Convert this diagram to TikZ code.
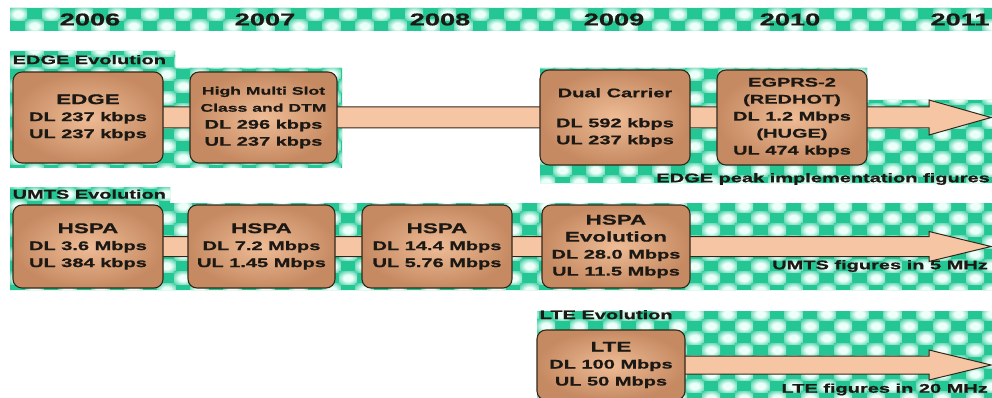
\documentclass[tikz,border=0pt]{standalone}
\usepackage{fontspec}
\newfontfamily\chartfont[FakeStretch=1.6,FakeBold=0.8]{Liberation Sans}
\usetikzlibrary{positioning,calc,backgrounds}

\definecolor{chkgreen}{RGB}{36,198,148}
\definecolor{chkwhite}{RGB}{236,255,249}
\definecolor{boxlight}{RGB}{238,188,150}
\definecolor{boxdark}{RGB}{198,138,98}
\definecolor{barfill}{RGB}{246,198,164}
\definecolor{inkdark}{RGB}{28,24,20}
\definecolor{boxline}{RGB}{52,40,28}

\pgfdeclareradialshading{chkblob}{\pgfpointorigin}{color(0bp)=(chkwhite); color(12bp)=(chkwhite); color(38bp)=(chkgreen); color(50bp)=(chkgreen)}

\newcommand{\bigtxt}{\fontsize{14}{17}\selectfont}
\newcommand{\smalltxt}{\fontsize{11}{16}\selectfont}

% checkered backdrops behind the year band and the three rows
\newcommand{\greenzones}{(10,8) rectangle (992,31)
  (10,51) rectangle (175,70) (10,68) rectangle (342,168)
  (540,68) rectangle (867,100) (540,100) rectangle (992,183)
  (10,187) rectangle (170,205) (10,203) rectangle (992,290)
  (537,311) rectangle (992,400)}

% wide arrow: shaft from a box centre, head ending at a tip coordinate
\newcommand{\bandarrow}[4]{%
  \draw[stagebar] ($(#1.center)+(0,-#3)$) -- ($(#2)+(-62,-#3)$) -- ($(#2)+(-62,-#4)$) -- (#2)
    -- ($(#2)+(-62,#4)$) -- ($(#2)+(-62,#3)$) -- ($(#1.center)+(0,#3)$) -- cycle;}

\begin{document}
\begin{tikzpicture}[x=1pt,y=-1pt,
  stagebox/.style={rectangle,rounded corners=9pt,draw=boxline,line width=1.1pt,
    inner color=boxlight,outer color=boxdark,align=center,text=inkdark,inner sep=2pt,
    font=\chartfont\bfseries\fontsize{12.5}{17}\selectfont},
  stagebar/.style={draw=boxline,line width=1pt,fill=barfill},
  yearlbl/.style={font=\chartfont\bfseries\fontsize{17}{20}\selectfont,text=inkdark},
  rowtitle/.style={font=\chartfont\bfseries\fontsize{12.5}{15}\selectfont,text=inkdark,inner sep=0pt},
  fignote/.style={rowtitle,anchor=east}]
  \useasboundingbox (0,0) rectangle (992,398);
  \clip (0,0) rectangle (992,398);

  % EDGE row
  \node [stagebox,minimum width=150pt,minimum height=91pt] (edge_box) at (88,117.5) {\bigtxt EDGE\\DL 237 kbps\\UL 237 kbps};
  \node [stagebox,minimum width=147pt,minimum height=91pt] (dtm_box) at (263.5,117.5) {{\smalltxt High Multi Slot}\\{\smalltxt Class and DTM}\\DL 296 kbps\\UL 237 kbps};
  \node [stagebox,minimum width=150pt,minimum height=95pt] (dual_box) at (615,117.5) {Dual Carrier\\[13pt]DL 592 kbps\\UL 237 kbps};
  \node [stagebox,minimum width=150pt,minimum height=95pt] (egprs_box) at (792,117.5) {EGPRS-2\\(REDHOT)\\DL 1.2 Mbps\\(HUGE)\\UL 474 kbps};
  \coordinate (edge_tip) at (991,117.5);

  % UMTS row
  \node [stagebox,minimum width=150pt,minimum height=83pt] (hspa1_box) at (88,246.5) {\bigtxt HSPA\\DL 3.6 Mbps\\UL 384 kbps};
  \node [stagebox,minimum width=147pt,minimum height=83pt] (hspa2_box) at (261.5,246.5) {\bigtxt HSPA\\DL 7.2 Mbps\\UL 1.45 Mbps};
  \node [stagebox,minimum width=150pt,minimum height=83pt] (hspa3_box) at (437,246.5) {\bigtxt HSPA\\DL 14.4 Mbps\\UL 5.76 Mbps};
  \node [stagebox,minimum width=148pt,minimum height=83pt] (hspaevo_box) at (616,246.5) {{\bigtxt HSPA}\\{\bigtxt Evolution}\\DL 28.0 Mbps\\UL 11.5 Mbps};
  \coordinate (umts_tip) at (991,246.5);

  % LTE row
  \node [stagebox,minimum width=148pt,minimum height=70pt] (lte_box) at (611,365) {\bigtxt LTE\\DL 100 Mbps\\UL 50 Mbps};
  \coordinate (lte_tip) at (991,365);

  \begin{scope}[on background layer]
    \begin{scope}
      \clip \greenzones;
      \fill [chkgreen] (0,0) rectangle (992,400);
      \foreach \i in {0,...,60}{
        \foreach \j in {0,...,33}{
          \pgfmathtruncatemacro\chkodd{mod(\i+\j,2)}
          \ifnum\chkodd=0
            \shade [shading=chkblob] ({18+16.5*\i-9},{14+12*\j-6.5}) rectangle ++(18,13);
          \fi
        }
      }
    \end{scope}
    \bandarrow{edge_box}{edge_tip}{10.5}{17.5}
    \bandarrow{hspa1_box}{umts_tip}{10}{15}
    \bandarrow{lte_box}{lte_tip}{9}{15}
  \end{scope}

  \foreach \yr/\xx in {2006/90,2007/265,2008/440,2009/614,2010/790,2011/960}
    \node [yearlbl] (yr_\yr) at (\xx,19.5) {\yr};

  \node [rowtitle,above right=7pt and 0pt of edge_box.north west] (edge_title) {EDGE Evolution};
  \node [rowtitle,above right=5.5pt and 0pt of hspa1_box.north west] (umts_title) {UMTS Evolution};
  \node [rowtitle,above right=10pt and 3pt of lte_box.north west] (lte_title) {LTE Evolution};

  \node [fignote] (edge_note) at (990,179) {EDGE peak implementation figures};
  \node [fignote] (umts_note) at (988,266) {UMTS figures in 5 MHz};
  \node [fignote] (lte_note) at (988,389.5) {LTE figures in 20 MHz};
\end{tikzpicture}
\end{document}
